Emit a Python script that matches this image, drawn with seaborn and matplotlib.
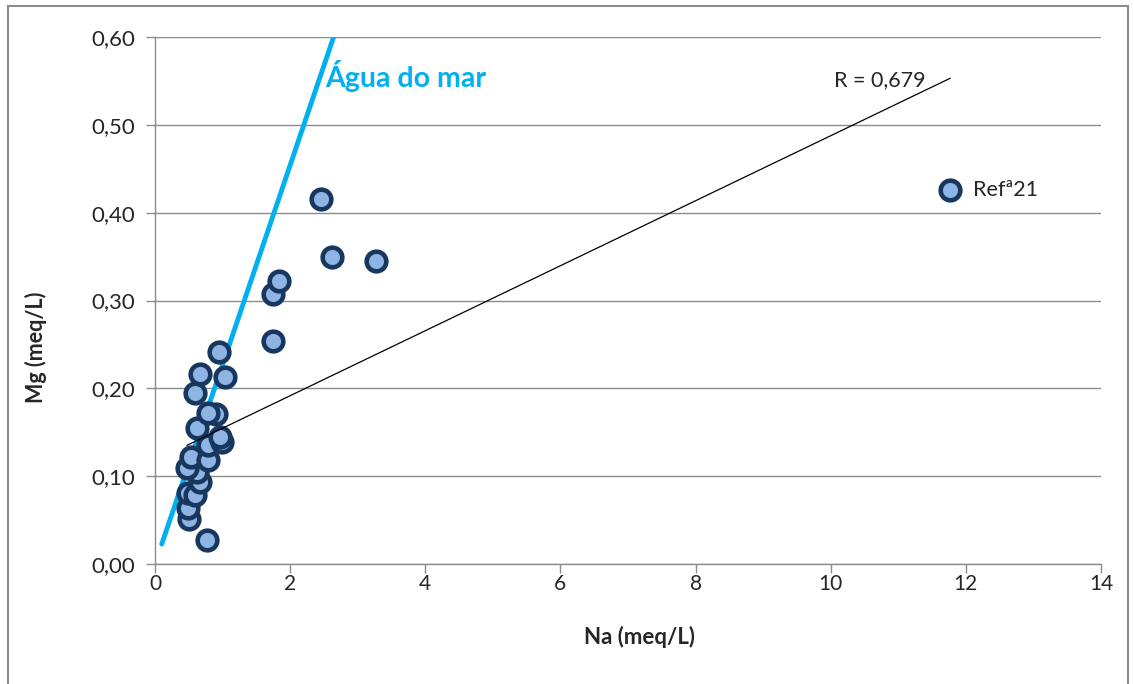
import numpy as np
import pandas as pd
import matplotlib
matplotlib.use("Agg")
import matplotlib.pyplot as plt
from matplotlib.patches import Rectangle
from matplotlib.ticker import FuncFormatter
import seaborn as sns

# ---- data ----
na = [0.77, 0.50, 0.49, 0.49, 0.59, 0.67, 0.62, 0.47, 0.54, 0.78, 0.78, 0.99, 0.96,
      0.62, 0.90, 0.78, 0.59, 1.04, 0.67, 0.95, 1.75, 1.75, 1.83, 2.46, 2.62, 3.27, 11.77]
mg = [0.027, 0.051, 0.064, 0.081, 0.079, 0.093, 0.105, 0.109, 0.122, 0.118, 0.135, 0.139, 0.145,
      0.155, 0.171, 0.172, 0.195, 0.213, 0.216, 0.241, 0.254, 0.307, 0.322, 0.416, 0.350, 0.345, 0.426]
seawater_na = [0.10, 2.64]
seawater_ratio = 0.227
trend_slope = 0.0370
trend_intercept = 0.1176
r_label = "R = 0,679"
point_label = "Refª21"
seawater_label = "Água do mar"
xticks = [0, 2, 4, 6, 8, 10, 12, 14]
yticks = [0.0, 0.1, 0.2, 0.3, 0.4, 0.5, 0.6]

df = pd.DataFrame({"Na": na, "Mg": mg})

sns.set_style("white")
plt.rcParams["font.family"] = ["Lato", "DejaVu Sans"]

W, H = 1134, 684
fig = plt.figure(figsize=(W / 100, H / 100), dpi=100)
ax = fig.add_axes([155 / W, 1 - 564 / H, (1101 - 155) / W, (564 - 37) / H])

# gridlines
ax.set_axisbelow(True)
ax.yaxis.grid(True, color="#8c8c8c", lw=1)
ax.xaxis.grid(False)

# seawater line
sw = pd.DataFrame({"Na": seawater_na, "Mg": [v * seawater_ratio for v in seawater_na]})
sns.lineplot(data=sw, x="Na", y="Mg", ax=ax, color="#00B0F0", lw=3.5, zorder=2)
ax.text(2.52, 0.556, seawater_label, color="#00B0F0", fontsize=20.5, fontweight="bold",
        ha="left", va="center")

# points
sns.scatterplot(data=df, x="Na", y="Mg", ax=ax, s=200, color="#8DB4E2",
                edgecolor="#17375E", linewidth=3.3, zorder=3, legend=False)
ax.text(12.1, 0.426, point_label, fontsize=15.5, ha="left", va="center")

# trendline (over the points)
tx = np.array([df["Na"].min(), df["Na"].max()])
tr = pd.DataFrame({"Na": tx, "Mg": trend_intercept + trend_slope * tx})
sns.lineplot(data=tr, x="Na", y="Mg", ax=ax, color="black", lw=0.9, zorder=4)
ax.text(10.05, 0.551, r_label, fontsize=15.5, ha="left", va="center")

ax.set_xlim(0, 14)
ax.set_ylim(0, 0.6)
ax.set_xticks(xticks)
ax.set_yticks(yticks)
ax.yaxis.set_major_formatter(FuncFormatter(lambda v, p: f"{v:.2f}".replace(".", ",")))
ax.tick_params(axis="both", direction="out", length=6.5, width=1, color="#8c8c8c",
               bottom=True, left=True)
ax.tick_params(axis="y", labelsize=16, pad=8)
ax.tick_params(axis="x", labelsize=15, pad=1)
for s in ["top", "right"]:
    ax.spines[s].set_visible(False)
for s in ["left", "bottom"]:
    ax.spines[s].set_color("#8c8c8c")
    ax.spines[s].set_linewidth(1)
ax.set_xlabel("Na (meq/L)", fontsize=16, fontweight="bold", va="center")
ax.set_ylabel("Mg (meq/L)", fontsize=15.5, fontweight="bold", va="center")
ax.xaxis.set_label_coords((640 - 155) / 946, -(637 - 564) / 527)
ax.yaxis.set_label_coords(-(155 - 36) / 946, (564 - 347) / 527)

fig.patches.append(Rectangle((8 / W, -0.01), (1128 - 8) / W, 1 - 6 / H + 0.01,
                             transform=fig.transFigure, fill=False, edgecolor="#8c8c8c", lw=1.5))

fig.savefig("out.png", dpi=100)
